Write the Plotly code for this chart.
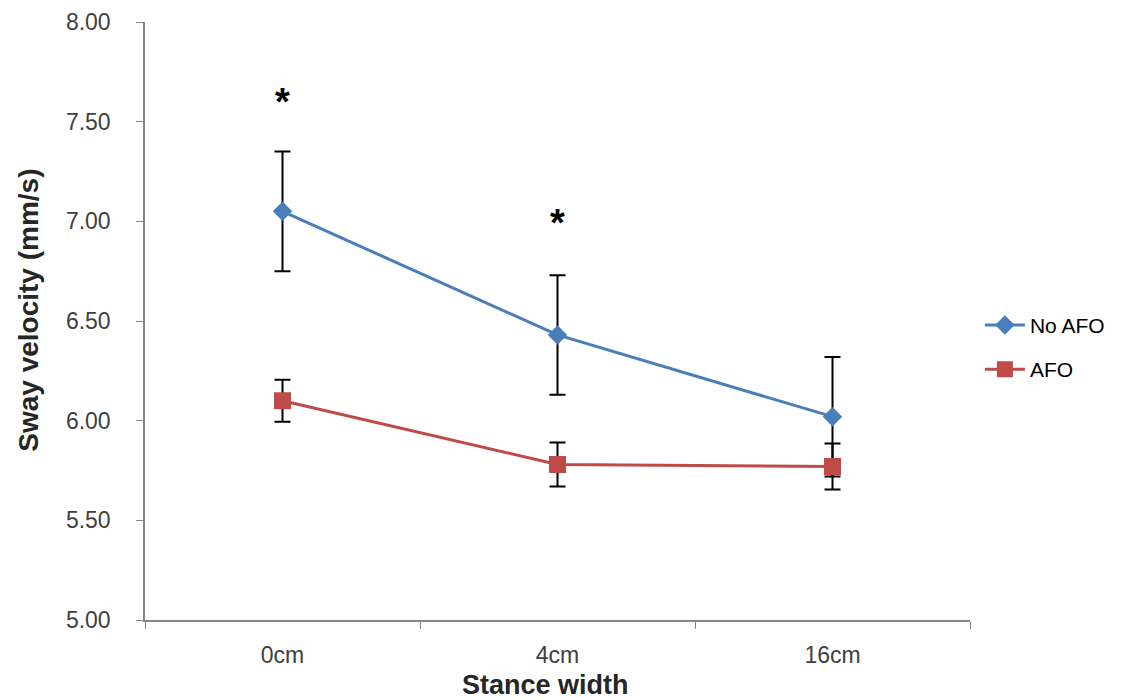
import plotly.graph_objects as go

categories = ["0cm", "4cm", "16cm"]
no_afo = [7.05, 6.43, 6.02]
no_afo_err = [0.30, 0.30, 0.30]
afo = [6.10, 5.78, 5.77]
afo_err = [0.105, 0.11, 0.115]
sig_x = ["0cm", "4cm"]
sig_y = [7.60, 6.99]
y_ticks = [5.0, 5.5, 6.0, 6.5, 7.0, 7.5, 8.0]
x_title = "Stance width"
y_title = "Sway velocity (mm/s)"

FONT = "Liberation Sans"

fig = go.Figure()
fig.add_trace(go.Scatter(
    x=categories, y=no_afo, name="No AFO", mode="lines+markers",
    line=dict(color="#4a7ebb", width=3),
    marker=dict(symbol="diamond", size=15, color="#4a7ebb"),
    error_y=dict(type="data", array=no_afo_err, color="black", thickness=2, width=8),
    legendgroup="a",
))
fig.add_trace(go.Scatter(
    x=categories, y=afo, name="AFO", mode="lines+markers",
    line=dict(color="#be4b48", width=3),
    marker=dict(symbol="square", size=17, color="#be4b48"),
    error_y=dict(type="data", array=afo_err, color="black", thickness=2, width=8),
    legendgroup="b",
))

for xv, yv in zip(sig_x, sig_y):
    fig.add_annotation(x=xv, y=yv, text="<b>*</b>", showarrow=False,
                       font=dict(size=38, color="black", family=FONT))

# axis titles
fig.add_annotation(xref="paper", yref="paper", x=0.485, y=-0.1087,
                   xanchor="center", yanchor="middle", showarrow=False,
                   text="<b>" + x_title + "</b>",
                   font=dict(size=27, color="#262626", family=FONT))
fig.add_annotation(xref="paper", yref="paper", x=-0.1412, y=0.518,
                   xanchor="center", yanchor="middle", showarrow=False,
                   textangle=-90, text="<b>" + y_title + "</b>",
                   font=dict(size=28, color="#262626", family=FONT))

fig.update_layout(
    width=1148, height=700,
    paper_bgcolor="white", plot_bgcolor="white",
    margin=dict(l=137, r=186, t=14, b=88),
    font=dict(family=FONT, size=22, color="#404040"),
    legend=dict(x=1.012, y=0.456, xanchor="left", yanchor="middle",
                font=dict(size=21, color="black"), tracegroupgap=14,
                itemwidth=40),
    showlegend=True,
)
fig.update_xaxes(
    type="category", range=[-0.5, 2.5], automargin=False,
    showline=True, linecolor="#868686", linewidth=1.5,
    ticks="outside", tickson="boundaries", ticklen=7, tickcolor="#868686",
    showgrid=False, zeroline=False, ticklabelstandoff=14,
    tickfont=dict(size=23, color="#404040"),
)
fig.update_yaxes(
    range=[5.0, 8.0], tickvals=y_ticks, automargin=False,
    tickformat=".2f",
    showline=True, linecolor="#868686", linewidth=1.5,
    ticks="outside", ticklen=7, tickcolor="#868686",
    showgrid=False, zeroline=False, ticklabelstandoff=21,
    tickfont=dict(size=23, color="#404040"),
)

fig.write_html("out.html")
